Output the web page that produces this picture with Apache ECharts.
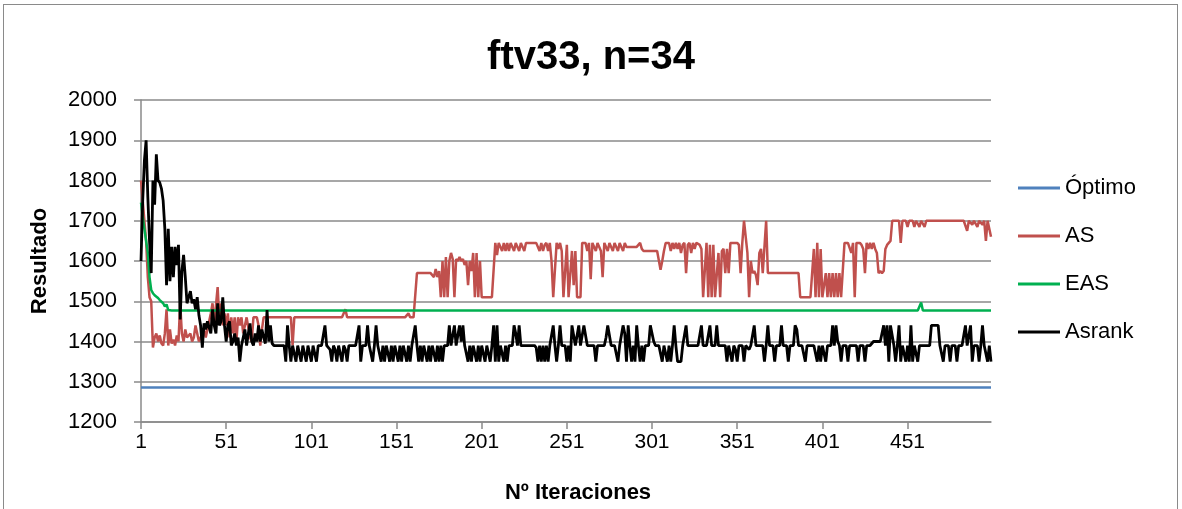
<!DOCTYPE html>
<html>
<head>
<meta charset="utf-8">
<script src="https://cdn.jsdelivr.net/npm/echarts@6/dist/echarts.min.js"></script>
<style>
html,body{margin:0;padding:0;background:#fff;}
#chart{position:absolute;left:0;top:0;width:1182px;height:509px;}
#frame{position:absolute;left:3px;top:4px;width:1173px;height:520px;border:1px solid #8a8a8a;pointer-events:none;}
</style>
</head>
<body>
<div id="chart"></div>
<div id="frame"></div>
<script>
const categories = [
1,2,3,4,5,6,7,8,9,10,11,12,13,14,15,16,17,18,19,20,21,22,23,24,25,
26,27,28,29,30,31,32,33,34,35,36,37,38,39,40,41,42,43,44,45,46,47,48,49,50,
51,52,53,54,55,56,57,58,59,60,61,62,63,64,65,66,67,68,69,70,71,72,73,74,75,
76,77,78,79,80,81,82,83,84,85,86,87,88,89,90,91,92,93,94,95,96,97,98,99,100,
101,102,103,104,105,106,107,108,109,110,111,112,113,114,115,116,117,118,119,120,121,122,123,124,125,
126,127,128,129,130,131,132,133,134,135,136,137,138,139,140,141,142,143,144,145,146,147,148,149,150,
151,152,153,154,155,156,157,158,159,160,161,162,163,164,165,166,167,168,169,170,171,172,173,174,175,
176,177,178,179,180,181,182,183,184,185,186,187,188,189,190,191,192,193,194,195,196,197,198,199,200,
201,202,203,204,205,206,207,208,209,210,211,212,213,214,215,216,217,218,219,220,221,222,223,224,225,
226,227,228,229,230,231,232,233,234,235,236,237,238,239,240,241,242,243,244,245,246,247,248,249,250,
251,252,253,254,255,256,257,258,259,260,261,262,263,264,265,266,267,268,269,270,271,272,273,274,275,
276,277,278,279,280,281,282,283,284,285,286,287,288,289,290,291,292,293,294,295,296,297,298,299,300,
301,302,303,304,305,306,307,308,309,310,311,312,313,314,315,316,317,318,319,320,321,322,323,324,325,
326,327,328,329,330,331,332,333,334,335,336,337,338,339,340,341,342,343,344,345,346,347,348,349,350,
351,352,353,354,355,356,357,358,359,360,361,362,363,364,365,366,367,368,369,370,371,372,373,374,375,
376,377,378,379,380,381,382,383,384,385,386,387,388,389,390,391,392,393,394,395,396,397,398,399,400,
401,402,403,404,405,406,407,408,409,410,411,412,413,414,415,416,417,418,419,420,421,422,423,424,425,
426,427,428,429,430,431,432,433,434,435,436,437,438,439,440,441,442,443,444,445,446,447,448,449,450,
451,452,453,454,455,456,457,458,459,460,461,462,463,464,465,466,467,468,469,470,471,472,473,474,475,
476,477,478,479,480,481,482,483,484,485,486,487,488,489,490,491,492,493,494,495,496,497,498,499,500
];

const optimo = [
1286,1286,1286,1286,1286,1286,1286,1286,1286,1286,1286,1286,1286,1286,1286,1286,1286,1286,1286,1286,
1286,1286,1286,1286,1286,1286,1286,1286,1286,1286,1286,1286,1286,1286,1286,1286,1286,1286,1286,1286,
1286,1286,1286,1286,1286,1286,1286,1286,1286,1286,1286,1286,1286,1286,1286,1286,1286,1286,1286,1286,
1286,1286,1286,1286,1286,1286,1286,1286,1286,1286,1286,1286,1286,1286,1286,1286,1286,1286,1286,1286,
1286,1286,1286,1286,1286,1286,1286,1286,1286,1286,1286,1286,1286,1286,1286,1286,1286,1286,1286,1286,
1286,1286,1286,1286,1286,1286,1286,1286,1286,1286,1286,1286,1286,1286,1286,1286,1286,1286,1286,1286,
1286,1286,1286,1286,1286,1286,1286,1286,1286,1286,1286,1286,1286,1286,1286,1286,1286,1286,1286,1286,
1286,1286,1286,1286,1286,1286,1286,1286,1286,1286,1286,1286,1286,1286,1286,1286,1286,1286,1286,1286,
1286,1286,1286,1286,1286,1286,1286,1286,1286,1286,1286,1286,1286,1286,1286,1286,1286,1286,1286,1286,
1286,1286,1286,1286,1286,1286,1286,1286,1286,1286,1286,1286,1286,1286,1286,1286,1286,1286,1286,1286,
1286,1286,1286,1286,1286,1286,1286,1286,1286,1286,1286,1286,1286,1286,1286,1286,1286,1286,1286,1286,
1286,1286,1286,1286,1286,1286,1286,1286,1286,1286,1286,1286,1286,1286,1286,1286,1286,1286,1286,1286,
1286,1286,1286,1286,1286,1286,1286,1286,1286,1286,1286,1286,1286,1286,1286,1286,1286,1286,1286,1286,
1286,1286,1286,1286,1286,1286,1286,1286,1286,1286,1286,1286,1286,1286,1286,1286,1286,1286,1286,1286,
1286,1286,1286,1286,1286,1286,1286,1286,1286,1286,1286,1286,1286,1286,1286,1286,1286,1286,1286,1286,
1286,1286,1286,1286,1286,1286,1286,1286,1286,1286,1286,1286,1286,1286,1286,1286,1286,1286,1286,1286,
1286,1286,1286,1286,1286,1286,1286,1286,1286,1286,1286,1286,1286,1286,1286,1286,1286,1286,1286,1286,
1286,1286,1286,1286,1286,1286,1286,1286,1286,1286,1286,1286,1286,1286,1286,1286,1286,1286,1286,1286,
1286,1286,1286,1286,1286,1286,1286,1286,1286,1286,1286,1286,1286,1286,1286,1286,1286,1286,1286,1286,
1286,1286,1286,1286,1286,1286,1286,1286,1286,1286,1286,1286,1286,1286,1286,1286,1286,1286,1286,1286,
1286,1286,1286,1286,1286,1286,1286,1286,1286,1286,1286,1286,1286,1286,1286,1286,1286,1286,1286,1286,
1286,1286,1286,1286,1286,1286,1286,1286,1286,1286,1286,1286,1286,1286,1286,1286,1286,1286,1286,1286,
1286,1286,1286,1286,1286,1286,1286,1286,1286,1286,1286,1286,1286,1286,1286,1286,1286,1286,1286,1286,
1286,1286,1286,1286,1286,1286,1286,1286,1286,1286,1286,1286,1286,1286,1286,1286,1286,1286,1286,1286,
1286,1286,1286,1286,1286,1286,1286,1286,1286,1286,1286,1286,1286,1286,1286,1286,1286,1286,1286,1286
];

const asValues = [
1800,1750,1700,1650,1560,1510,1500,1385,1410,1420,1400,1415,1395,1390,1420,1480,1390,1430,1395,1405,
1390,1415,1400,1495,1420,1400,1430,1410,1415,1420,1400,1410,1440,1420,1400,1410,1420,1430,1410,1430,
1450,1470,1495,1440,1490,1535,1450,1495,1440,1470,1440,1470,1410,1460,1420,1460,1400,1460,1440,1460,
1420,1440,1460,1460,1410,1400,1460,1460,1460,1440,1390,1430,1460,1460,1460,1460,1460,1460,1460,1460,
1460,1460,1460,1460,1460,1460,1460,1460,1460,1390,1460,1460,1460,1460,1460,1460,1460,1460,1460,1460,
1460,1460,1460,1460,1460,1460,1460,1460,1460,1460,1460,1460,1460,1460,1460,1460,1460,1460,1460,1460,
1480,1460,1460,1460,1460,1460,1460,1460,1460,1460,1460,1460,1460,1460,1460,1460,1460,1460,1460,1460,
1460,1460,1460,1460,1460,1460,1460,1460,1460,1460,1460,1460,1460,1460,1460,1460,1460,1470,1460,1460,
1460,1460,1570,1570,1570,1570,1570,1570,1570,1570,1570,1570,1560,1580,1560,1575,1510,1600,1510,1610,
1510,1600,1620,1605,1510,1605,1600,1610,1600,1605,1590,1600,1540,1600,1575,1620,1510,1620,1510,1600,
1510,1510,1510,1510,1510,1510,1510,1510,1645,1615,1645,1645,1625,1645,1625,1645,1625,1645,1645,1625,
1645,1645,1625,1645,1645,1625,1645,1645,1645,1645,1645,1645,1645,1645,1625,1645,1625,1640,1645,1625,
1645,1600,1510,1510,1645,1630,1645,1625,1510,1510,1640,1510,1510,1625,1540,1625,1510,1510,1510,1645,
1645,1645,1625,1645,1555,1645,1645,1625,1645,1645,1625,1560,1645,1645,1625,1645,1645,1625,1645,1645,
1625,1645,1645,1625,1645,1635,1635,1635,1635,1635,1635,1635,1635,1645,1630,1625,1625,1625,1625,1625,
1625,1625,1625,1625,1625,1578,1600,1625,1645,1645,1645,1625,1645,1630,1645,1630,1645,1620,1640,1645,
1570,1640,1645,1620,1645,1630,1645,1645,1640,1630,1510,1510,1645,1510,1640,1510,1640,1510,1510,1620,
1510,1625,1630,1570,1630,1570,1645,1645,1645,1645,1645,1640,1570,1645,1700,1660,1620,1510,1600,1570,
1575,1565,1540,1620,1630,1570,1570,1700,1570,1570,1570,1570,1570,1570,1570,1570,1570,1570,1570,1570,
1570,1570,1570,1570,1570,1570,1570,1510,1510,1510,1510,1510,1510,1510,1510,1630,1510,1645,1510,1630,
1510,1510,1570,1510,1570,1510,1570,1510,1570,1510,1570,1510,1510,1645,1645,1645,1645,1620,1645,1510,
1645,1645,1645,1640,1630,1570,1645,1630,1645,1630,1645,1630,1620,1570,1575,1570,1575,1630,1640,1645,
1650,1700,1700,1700,1700,1700,1645,1700,1700,1700,1685,1700,1700,1700,1685,1700,1700,1685,1700,1700,
1685,1700,1700,1700,1700,1700,1700,1700,1700,1700,1700,1700,1700,1700,1700,1700,1700,1700,1700,1700,
1700,1700,1700,1700,1700,1675,1700,1700,1690,1700,1700,1685,1700,1700,1690,1700,1650,1700,1700,1660
];

const easValues = [
1745,1710,1680,1650,1620,1560,1528,1520,1515,1511,1508,1503,1500,1495,1487,1492,1478,1477,1477,1477,
1477,1477,1477,1477,1477,1477,1477,1477,1477,1477,1477,1477,1477,1477,1477,1477,1477,1477,1477,1477,
1477,1477,1477,1477,1477,1477,1477,1477,1477,1477,1477,1477,1477,1477,1477,1477,1477,1477,1477,1477,
1477,1477,1477,1477,1477,1477,1477,1477,1477,1477,1477,1477,1477,1477,1477,1477,1477,1477,1477,1477,
1477,1477,1477,1477,1477,1477,1477,1477,1477,1477,1477,1477,1477,1477,1477,1477,1477,1477,1477,1477,
1477,1477,1477,1477,1477,1477,1477,1477,1477,1477,1477,1477,1477,1477,1477,1477,1477,1477,1477,1477,
1477,1477,1477,1477,1477,1477,1477,1477,1477,1477,1477,1477,1477,1477,1477,1477,1477,1477,1477,1477,
1477,1477,1477,1477,1477,1477,1477,1477,1477,1477,1477,1477,1477,1477,1477,1477,1477,1477,1477,1477,
1477,1477,1477,1477,1477,1477,1477,1477,1477,1477,1477,1477,1477,1477,1477,1477,1477,1477,1477,1477,
1477,1477,1477,1477,1477,1477,1477,1477,1477,1477,1477,1477,1477,1477,1477,1477,1477,1477,1477,1477,
1477,1477,1477,1477,1477,1477,1477,1477,1477,1477,1477,1477,1477,1477,1477,1477,1477,1477,1477,1477,
1477,1477,1477,1477,1477,1477,1477,1477,1477,1477,1477,1477,1477,1477,1477,1477,1477,1477,1477,1477,
1477,1477,1477,1477,1477,1477,1477,1477,1477,1477,1477,1477,1477,1477,1477,1477,1477,1477,1477,1477,
1477,1477,1477,1477,1477,1477,1477,1477,1477,1477,1477,1477,1477,1477,1477,1477,1477,1477,1477,1477,
1477,1477,1477,1477,1477,1477,1477,1477,1477,1477,1477,1477,1477,1477,1477,1477,1477,1477,1477,1477,
1477,1477,1477,1477,1477,1477,1477,1477,1477,1477,1477,1477,1477,1477,1477,1477,1477,1477,1477,1477,
1477,1477,1477,1477,1477,1477,1477,1477,1477,1477,1477,1477,1477,1477,1477,1477,1477,1477,1477,1477,
1477,1477,1477,1477,1477,1477,1477,1477,1477,1477,1477,1477,1477,1477,1477,1477,1477,1477,1477,1477,
1477,1477,1477,1477,1477,1477,1477,1477,1477,1477,1477,1477,1477,1477,1477,1477,1477,1477,1477,1477,
1477,1477,1477,1477,1477,1477,1477,1477,1477,1477,1477,1477,1477,1477,1477,1477,1477,1477,1477,1477,
1477,1477,1477,1477,1477,1477,1477,1477,1477,1477,1477,1477,1477,1477,1477,1477,1477,1477,1477,1477,
1477,1477,1477,1477,1477,1477,1477,1477,1477,1477,1477,1477,1477,1477,1477,1477,1477,1477,1477,1477,
1477,1477,1477,1477,1477,1477,1477,1477,1477,1477,1477,1477,1477,1477,1477,1477,1477,1477,1497,1477,
1477,1477,1477,1477,1477,1477,1477,1477,1477,1477,1477,1477,1477,1477,1477,1477,1477,1477,1477,1477,
1477,1477,1477,1477,1477,1477,1477,1477,1477,1477,1477,1477,1477,1477,1477,1477,1477,1477,1477,1477
];

const asrankValues = [
1600,1750,1850,1900,1760,1650,1570,1800,1740,1865,1800,1795,1780,1750,1680,1540,1680,1550,1635,1560,
1635,1590,1640,1455,1575,1615,1560,1495,1510,1525,1495,1505,1480,1510,1465,1440,1385,1445,1430,1450,
1450,1420,1480,1440,1420,1495,1440,1450,1510,1440,1400,1440,1450,1390,1400,1420,1390,1410,1350,1390,
1410,1430,1390,1420,1445,1400,1390,1420,1400,1440,1400,1430,1410,1395,1478,1400,1440,1395,1390,1390,
1390,1390,1390,1390,1390,1350,1440,1390,1350,1390,1390,1350,1390,1390,1350,1390,1390,1350,1390,1390,
1350,1390,1390,1350,1390,1390,1390,1390,1440,1390,1390,1380,1350,1390,1380,1350,1390,1390,1350,1390,
1380,1350,1390,1390,1390,1390,1390,1390,1440,1350,1390,1390,1390,1440,1390,1390,1350,1390,1440,1390,
1390,1350,1390,1350,1390,1390,1350,1390,1350,1390,1390,1350,1390,1350,1390,1390,1350,1390,1350,1390,
1390,1440,1390,1350,1390,1350,1390,1390,1350,1390,1350,1390,1390,1350,1390,1350,1390,1350,1390,1390,
1390,1440,1390,1390,1440,1390,1390,1440,1400,1440,1390,1390,1350,1390,1350,1390,1390,1350,1390,1350,
1390,1390,1350,1390,1390,1350,1390,1440,1350,1440,1350,1390,1390,1350,1390,1350,1390,1390,1390,1440,
1420,1390,1440,1390,1390,1390,1390,1390,1390,1390,1390,1390,1385,1350,1390,1350,1390,1350,1390,1350,
1390,1390,1440,1390,1350,1390,1440,1390,1390,1390,1350,1390,1350,1440,1440,1390,1390,1440,1390,1390,
1440,1440,1390,1390,1390,1390,1390,1350,1390,1390,1390,1390,1390,1410,1440,1440,1390,1390,1390,1390,
1350,1390,1390,1440,1420,1350,1440,1390,1350,1390,1350,1440,1390,1350,1390,1350,1390,1390,1390,1440,
1440,1400,1390,1390,1390,1390,1350,1390,1390,1350,1390,1350,1390,1440,1390,1350,1350,1350,1390,1390,
1440,1390,1390,1390,1390,1390,1390,1390,1390,1440,1390,1390,1390,1390,1440,1390,1390,1390,1440,1390,
1390,1390,1390,1390,1350,1390,1390,1350,1390,1380,1350,1390,1390,1390,1350,1390,1390,1380,1390,1390,
1440,1390,1390,1390,1390,1390,1350,1390,1440,1390,1390,1390,1350,1390,1390,1390,1440,1390,1390,1390,
1350,1390,1390,1390,1440,1430,1390,1390,1390,1390,1350,1390,1390,1390,1390,1390,1390,1350,1390,1350,
1390,1390,1350,1390,1390,1390,1440,1390,1440,1400,1390,1350,1390,1390,1390,1350,1390,1390,1390,1390,
1390,1350,1390,1390,1390,1350,1390,1390,1390,1390,1400,1400,1400,1400,1400,1400,1440,1390,1440,1350,
1440,1440,1390,1350,1390,1440,1350,1390,1390,1350,1390,1350,1440,1350,1390,1390,1350,1390,1390,1390,
1390,1390,1390,1390,1440,1440,1440,1440,1440,1390,1390,1350,1390,1390,1390,1350,1390,1390,1390,1350,
1390,1390,1390,1390,1440,1390,1390,1440,1350,1390,1390,1390,1350,1390,1440,1390,1390,1350,1390,1350
];

const seriesNames = ['Óptimo', 'AS', 'EAS', 'Asrank'];
const seriesColors = ['#4F81BD', '#C0504D', '#00B050', '#000000'];
const seriesData = [optimo, asValues, easValues, asrankValues];

const FONT = '"Liberation Sans", Arial, sans-serif';
const GRID_COLOR = '#8a8a8a';

const chart = echarts.init(document.getElementById('chart'), null, {renderer: 'canvas'});
chart.setOption({
  animation: false,
  backgroundColor: '#ffffff',
  textStyle: {fontFamily: FONT, color: '#000'},
  title: {
    text: 'ftv33, n=34',
    left: 'center',
    top: 33,
    textStyle: {fontFamily: FONT, fontSize: 40, fontWeight: 'bold', color: '#000'}
  },
  legend: {
    orient: 'vertical',
    left: 1013,
    top: 172,
    itemWidth: 42,
    itemHeight: 3,
    itemGap: 26,
    icon: 'rect',
    textStyle: {fontFamily: FONT, fontSize: 22, color: '#000', lineHeight: 20},
    data: seriesNames.map((n, k) => ({name: n, icon: 'rect', itemStyle: {color: seriesColors[k]}}))
  },
  grid: {left: 141, right: 191, top: 100, bottom: 87},
  xAxis: {
    type: 'category',
    data: categories,
    boundaryGap: false,
    name: 'Nº Iteraciones',
    nameLocation: 'middle',
    nameGap: 60,
    nameTextStyle: {fontFamily: FONT, fontSize: 22, fontWeight: 'bold', color: '#000', padding: [0, 0, 0, 24]},
    axisLine: {lineStyle: {color: GRID_COLOR, width: 1.5}},
    axisTick: {show: true, interval: 49, length: 7, lineStyle: {color: GRID_COLOR, width: 1.5}},
    axisLabel: {interval: 49, fontSize: 21, color: '#000', margin: 10},
    splitLine: {show: false}
  },
  yAxis: {
    type: 'value',
    min: 1200,
    max: 2000,
    interval: 100,
    name: 'Resultado',
    nameLocation: 'middle',
    nameGap: 90,
    nameTextStyle: {fontFamily: FONT, fontSize: 22, fontWeight: 'bold', color: '#000'},
    axisLine: {show: true, lineStyle: {color: GRID_COLOR, width: 1.5}},
    axisTick: {show: true, length: 7, lineStyle: {color: GRID_COLOR, width: 1.5}},
    axisLabel: {fontSize: 22, color: '#000', margin: 24, formatter: (v) => String(v)},
    splitLine: {show: true, lineStyle: {color: GRID_COLOR, width: 1.5}}
  },
  series: seriesNames.map((name, k) => ({
    name: name,
    type: 'line',
    data: seriesData[k],
    symbol: 'none',
    showSymbol: false,
    color: seriesColors[k],
    lineStyle: {color: seriesColors[k], width: k === 3 ? 2.8 : 2.5},
    z: 2 + k
  }))
});
</script>
</body>
</html>
